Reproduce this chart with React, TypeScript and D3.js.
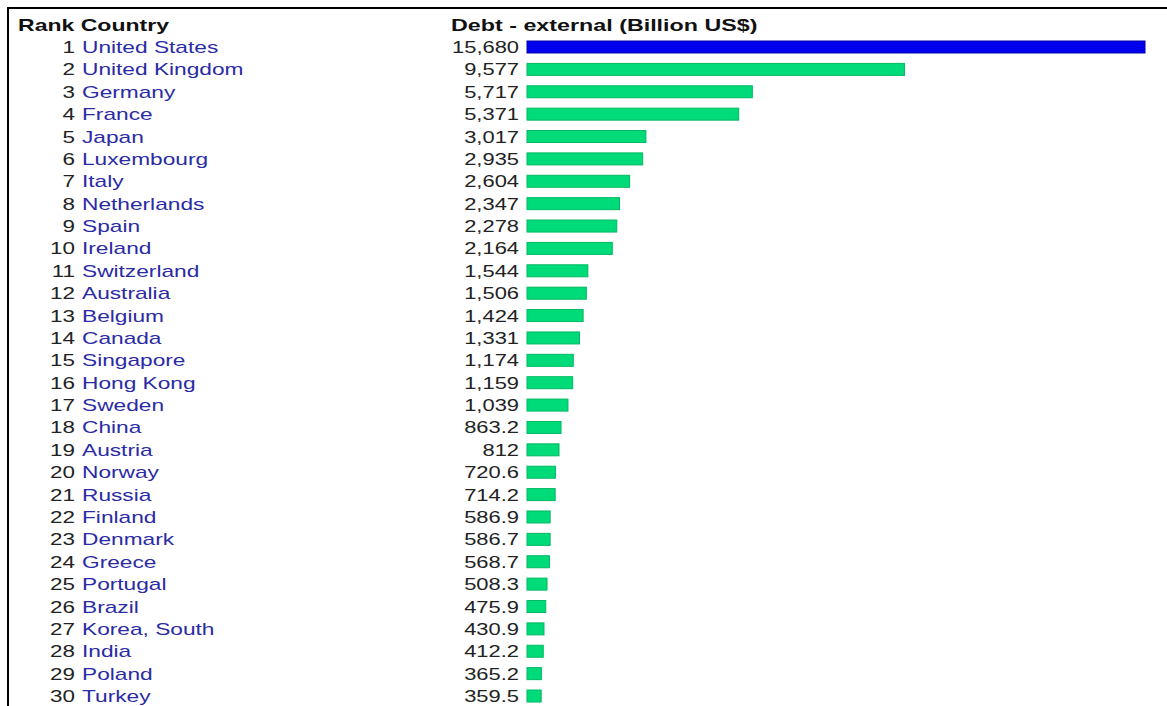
import React from "react";
import * as d3 from "d3";

const ranks = Array.from({ length: 30 }, (_, i) => i + 1);
const countries = [
  "United States", "United Kingdom", "Germany", "France", "Japan",
  "Luxembourg", "Italy", "Netherlands", "Spain", "Ireland",
  "Switzerland", "Australia", "Belgium", "Canada", "Singapore",
  "Hong Kong", "Sweden", "China", "Austria", "Norway",
  "Russia", "Finland", "Denmark", "Greece", "Portugal",
  "Brazil", "Korea, South", "India", "Poland", "Turkey",
];
const values = [
  15680, 9577, 5717, 5371, 3017,
  2935, 2604, 2347, 2278, 2164,
  1544, 1506, 1424, 1331, 1174,
  1159, 1039, 863.2, 812, 720.6,
  714.2, 586.9, 586.7, 568.7, 508.3,
  475.9, 430.9, 412.2, 365.2, 359.5,
];
const headerLeft = "Rank Country";
const headerRight = "Debt - external (Billion US$)";

const W = 1167;
const H = 706;
const FONT = "'Liberation Sans', Arial, sans-serif";

const fmt = (v: number) => (v >= 1000 ? d3.format(",")(v) : String(v));

export default function App() {
  const x = d3.scaleLinear().domain([0, 15680]).range([527, 1145]);
  const y = d3
    .scaleLinear()
    .domain([0, 29])
    .range([53, 53 + 22.38 * 29]);

  return (
    <svg
      width={W}
      height={H}
      style={{ position: "absolute", left: 0, top: 0, background: "#fff" }}
    >
      <line x1={7} y1={8} x2={W} y2={8} stroke="#000" strokeWidth={2} />
      <line x1={8} y1={7} x2={8} y2={H} stroke="#000" strokeWidth={2} />

      <g transform={`translate(18,31) scale(1.44,1)`}>
        <text fontFamily={FONT} fontSize={16} fontWeight="bold" fill="#111">
          {headerLeft}
        </text>
      </g>
      <g transform={`translate(451,31) scale(1.455,1)`}>
        <text fontFamily={FONT} fontSize={16} fontWeight="bold" fill="#111">
          {headerRight}
        </text>
      </g>

      {countries.map((c, i) => {
        const by = y(i);
        const v = values[i];
        return (
          <g key={c}>
            <g transform={`translate(75,${by}) scale(1.4,1)`}>
              <text fontFamily={FONT} fontSize={16} fill="#222" textAnchor="end">
                {ranks[i]}
              </text>
            </g>
            <g transform={`translate(82,${by}) scale(1.42,1)`}>
              <text fontFamily={FONT} fontSize={16} fill="#2b2ba6">
                {c}
              </text>
            </g>
            <g transform={`translate(519,${by}) scale(1.37,1)`}>
              <text fontFamily={FONT} fontSize={16} fill="#222" textAnchor="end">
                {fmt(v)}
              </text>
            </g>
            <rect
              x={x(0)}
              y={by - 12}
              width={x(v) - x(0)}
              height={12}
              fill={i === 0 ? "#0000ee" : "#00db7a"}
              stroke={i === 0 ? "#0000a8" : "#00b862"}
              strokeWidth={1}
            />
          </g>
        );
      })}
    </svg>
  );
}
